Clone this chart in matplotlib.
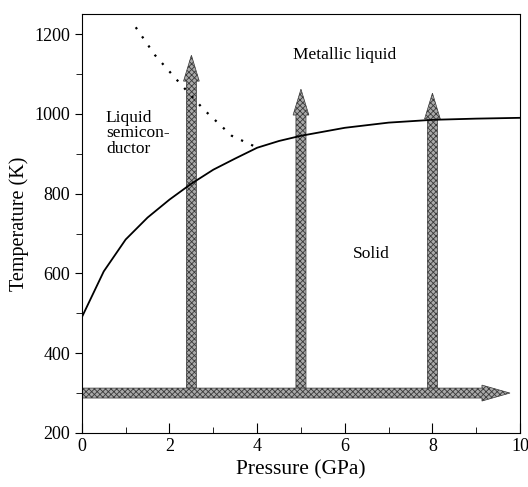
import matplotlib
matplotlib.use('Agg')
import matplotlib.pyplot as plt
from matplotlib.patches import FancyArrow
from matplotlib.ticker import MultipleLocator

plt.rcParams['font.family'] = ['Liberation Serif', 'DejaVu Serif']
plt.rcParams['hatch.linewidth'] = 0.6

# melting curve (solid / liquid boundary)
melt_p = [0, 0.5, 1.0, 1.5, 2.0, 2.5, 3.0, 3.5, 4.0, 4.5, 5.0, 5.5, 6.0, 7.0, 8.0, 9.0, 10.0]
melt_t = [490, 605, 685, 740, 785, 825, 860, 888, 915, 932, 945, 955, 965, 978, 985, 988, 990]

# dotted semiconductor / metal crossover
cross_p = [1.23, 1.67, 2.21, 2.79, 3.42, 3.95]
cross_t = [1217, 1147, 1080, 1010, 945, 918]

# heating paths at fixed pressure and compression path at room temperature
heat_p = [2.5, 5.0, 8.0]
heat_top = [1147, 1062, 1052]
heat_start = 312
comp_t = 300
comp_end = 9.77

fig = plt.figure(figsize=(5.28, 4.87), dpi=100)
ax = fig.add_axes([0.155, 0.111, 0.83, 0.86])
ax.set_xlim(0, 10)
ax.set_ylim(200, 1250)

arrow_kw = dict(length_includes_head=True, facecolor='#a9a9a9', edgecolor='#3a3a3a',
                hatch='xxxxxx', linewidth=0.5, zorder=2)
for p, top in zip(heat_p, heat_top):
    ax.add_patch(FancyArrow(p, heat_start, 0, top - heat_start, width=0.23,
                            head_width=0.36, head_length=65, **arrow_kw))
ax.add_patch(FancyArrow(0, comp_t, comp_end, 0, width=25,
                        head_width=40, head_length=0.64, **arrow_kw))

ax.plot(melt_p, melt_t, color='black', linewidth=1.3, zorder=3)
ax.plot(cross_p, cross_t, color='black', linestyle=(0, (1, 4)), linewidth=1.6, zorder=3)

ax.text(6.0, 1148, 'Metallic liquid', fontsize=12.5, ha='center', va='center')
ax.text(0.55, 1010, 'Liquid\nsemicon-\nductor', fontsize=12.5, ha='left', va='top',
        linespacing=0.95)
ax.text(6.6, 648, 'Solid', fontsize=12.5, ha='center', va='center')

ax.xaxis.set_major_locator(MultipleLocator(2))
ax.xaxis.set_minor_locator(MultipleLocator(1))
ax.yaxis.set_major_locator(MultipleLocator(200))
ax.yaxis.set_minor_locator(MultipleLocator(100))
ax.tick_params(axis='x', which='both', direction='in', top=False, labelsize=13)
ax.tick_params(axis='x', which='major', length=7)
ax.tick_params(axis='x', which='minor', length=4)
ax.tick_params(axis='y', which='both', direction='out', right=False, labelsize=13)
ax.tick_params(axis='y', which='major', length=5)
ax.tick_params(axis='y', which='minor', length=4)

ax.set_xlabel('Pressure (GPa)', fontsize=15.5)
ax.set_ylabel('Temperature (K)', fontsize=14.5)

fig.savefig('out.png', dpi=100)
